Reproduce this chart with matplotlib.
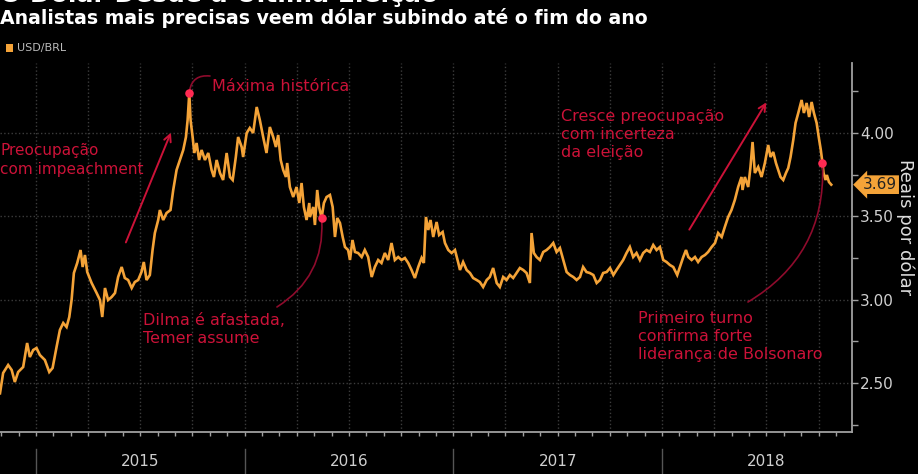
import numpy as np
import matplotlib
matplotlib.use("Agg")
import matplotlib.pyplot as plt
from matplotlib import transforms

# USD/BRL (x in decimal years)
years = [2014.828, 2014.843, 2014.867, 2014.884, 2014.899, 2014.915, 2014.939, 2014.958, 2014.971, 2014.987,
         2015.003, 2015.019, 2015.043, 2015.064, 2015.080, 2015.099, 2015.115, 2015.131, 2015.147, 2015.160,
         2015.171, 2015.182, 2015.198, 2015.214, 2015.224, 2015.235, 2015.246, 2015.267, 2015.291, 2015.307,
         2015.318, 2015.331, 2015.346, 2015.363, 2015.379, 2015.394, 2015.411, 2015.426, 2015.442, 2015.459,
         2015.474, 2015.490, 2015.506, 2015.517, 2015.530, 2015.546, 2015.559, 2015.570, 2015.586, 2015.594,
         2015.610, 2015.626, 2015.645, 2015.658, 2015.674, 2015.690, 2015.706, 2015.719, 2015.727, 2015.735,
         2015.741, 2015.751, 2015.759, 2015.770, 2015.782, 2015.794, 2015.810, 2015.826, 2015.842, 2015.853,
         2015.866, 2015.882, 2015.897, 2015.914, 2015.930, 2015.943, 2015.958, 2015.969, 2015.986, 2015.993,
         2016.010, 2016.025, 2016.041, 2016.058, 2016.073, 2016.089, 2016.105, 2016.121, 2016.137, 2016.150,
         2016.161, 2016.173, 2016.185, 2016.198, 2016.204, 2016.217, 2016.233, 2016.249, 2016.262, 2016.273,
         2016.284, 2016.297, 2016.310, 2016.313, 2016.329, 2016.337, 2016.348, 2016.357, 2016.369, 2016.380,
         2016.393, 2016.409, 2016.422, 2016.433, 2016.444, 2016.457, 2016.470, 2016.481, 2016.496, 2016.505,
         2016.517, 2016.529, 2016.544, 2016.561, 2016.576, 2016.592, 2016.609, 2016.624, 2016.640, 2016.656,
         2016.672, 2016.688, 2016.704, 2016.720, 2016.736, 2016.752, 2016.768, 2016.784, 2016.800, 2016.816,
         2016.832, 2016.848, 2016.859, 2016.869, 2016.880, 2016.891, 2016.904, 2016.920, 2016.932, 2016.949,
         2016.960, 2016.976, 2016.992, 2017.008, 2017.024, 2017.032, 2017.047, 2017.064, 2017.080, 2017.095,
         2017.112, 2017.127, 2017.143, 2017.160, 2017.175, 2017.191, 2017.208, 2017.223, 2017.239, 2017.255,
         2017.271, 2017.287, 2017.303, 2017.319, 2017.335, 2017.351, 2017.367, 2017.375, 2017.386, 2017.399,
         2017.415, 2017.431, 2017.447, 2017.463, 2017.479, 2017.495, 2017.511, 2017.527, 2017.543, 2017.559,
         2017.575, 2017.591, 2017.607, 2017.622, 2017.638, 2017.654, 2017.671, 2017.687, 2017.703, 2017.718,
         2017.735, 2017.751, 2017.767, 2017.782, 2017.798, 2017.814, 2017.830, 2017.846, 2017.862, 2017.878,
         2017.894, 2017.910, 2017.926, 2017.942, 2017.958, 2017.974, 2017.990, 2018.006, 2018.022, 2018.038,
         2018.054, 2018.073, 2018.086, 2018.102, 2018.115, 2018.126, 2018.142, 2018.158, 2018.173, 2018.190,
         2018.206, 2018.221, 2018.238, 2018.254, 2018.269, 2018.286, 2018.301, 2018.317, 2018.333, 2018.349,
         2018.365, 2018.381, 2018.386, 2018.397, 2018.413, 2018.424, 2018.434, 2018.445, 2018.461, 2018.477,
         2018.493, 2018.509, 2018.520, 2018.533, 2018.546, 2018.557, 2018.568, 2018.581, 2018.594, 2018.605,
         2018.616, 2018.629, 2018.640, 2018.653, 2018.669, 2018.680, 2018.693, 2018.705, 2018.717, 2018.728,
         2018.741, 2018.751, 2018.761, 2018.769, 2018.774, 2018.784, 2018.790, 2018.800, 2018.811]
usd_brl = [2.438, 2.560, 2.608, 2.578, 2.506, 2.566, 2.596, 2.740, 2.656, 2.698,
           2.710, 2.668, 2.638, 2.566, 2.590, 2.716, 2.818, 2.860, 2.836, 2.896,
           2.998, 3.160, 3.220, 3.298, 3.196, 3.268, 3.166, 3.100, 3.040, 2.998,
           2.896, 3.070, 2.998, 3.016, 3.040, 3.136, 3.196, 3.130, 3.118, 3.070,
           3.106, 3.118, 3.166, 3.226, 3.118, 3.148, 3.298, 3.400, 3.478, 3.538,
           3.478, 3.520, 3.538, 3.658, 3.778, 3.838, 3.898, 3.976, 4.078, 4.240,
           4.078, 3.976, 3.880, 3.940, 3.838, 3.898, 3.838, 3.880, 3.778, 3.736,
           3.838, 3.760, 3.718, 3.880, 3.736, 3.718, 3.856, 3.976, 3.916, 3.856,
           4.000, 4.030, 4.000, 4.156, 4.078, 3.976, 3.880, 4.036, 3.976, 3.916,
           3.988, 3.838, 3.778, 3.736, 3.820, 3.676, 3.616, 3.676, 3.580, 3.700,
           3.556, 3.478, 3.580, 3.496, 3.556, 3.448, 3.658, 3.556, 3.490, 3.580,
           3.616, 3.628, 3.556, 3.376, 3.490, 3.460, 3.376, 3.316, 3.298, 3.238,
           3.358, 3.286, 3.280, 3.256, 3.298, 3.256, 3.136, 3.196, 3.238, 3.220,
           3.280, 3.238, 3.340, 3.238, 3.256, 3.238, 3.250, 3.220, 3.178, 3.130,
           3.196, 3.250, 3.220, 3.496, 3.418, 3.478, 3.376, 3.466, 3.388, 3.406,
           3.340, 3.298, 3.280, 3.298, 3.220, 3.178, 3.226, 3.178, 3.160, 3.130,
           3.118, 3.106, 3.076, 3.118, 3.136, 3.190, 3.100, 3.076, 3.136, 3.118,
           3.148, 3.130, 3.160, 3.190, 3.178, 3.160, 3.100, 3.400, 3.280, 3.256,
           3.238, 3.286, 3.298, 3.316, 3.340, 3.286, 3.310, 3.238, 3.166, 3.148,
           3.136, 3.118, 3.136, 3.196, 3.166, 3.160, 3.148, 3.100, 3.118, 3.160,
           3.166, 3.190, 3.148, 3.178, 3.208, 3.238, 3.280, 3.316, 3.256, 3.280,
           3.238, 3.280, 3.298, 3.286, 3.328, 3.298, 3.316, 3.238, 3.226, 3.208,
           3.196, 3.148, 3.196, 3.256, 3.298, 3.256, 3.238, 3.256, 3.226, 3.256,
           3.268, 3.286, 3.316, 3.340, 3.400, 3.376, 3.436, 3.496, 3.538, 3.598,
           3.676, 3.736, 3.658, 3.736, 3.676, 3.796, 3.946, 3.760, 3.796, 3.736,
           3.820, 3.928, 3.856, 3.886, 3.820, 3.778, 3.736, 3.718, 3.760, 3.790,
           3.856, 3.958, 4.060, 4.120, 4.198, 4.120, 4.180, 4.096, 4.186, 4.120,
           4.060, 3.976, 3.898, 3.820, 3.760, 3.718, 3.748, 3.706, 3.690]

# highlighted events
event_x = [2015.735, 2016.369, 2018.769]
event_y = [4.240, 3.490, 3.820]
last_value = 3.69
year_labels = ["2015", "2016", "2017", "2018"]

orange = "#f4a338"
red = "#cc1238"
dark_red = "#8e0b2c"
dot_red = "#ff2a52"

fig = plt.figure(figsize=(9.18, 4.74), dpi=100, facecolor="black")
ax = fig.add_axes([0.0, 0.0886, 0.928, 0.7785])
ax.set_facecolor("black")

ax.plot(years, usd_brl, color=orange, lw=1.9, solid_joinstyle="miter", zorder=3)
ax.scatter(event_x, event_y, s=38, color=dot_red, zorder=5, lw=0)

# axes styling
for s in ["left", "top"]:
    ax.spines[s].set_visible(False)
for s in ["right", "bottom"]:
    ax.spines[s].set_color("#a0a0a0")
    ax.spines[s].set_linewidth(1.3)

ax.yaxis.tick_right()
ax.set_yticks([2.5, 3.0, 3.5, 4.0])
ax.set_yticks([2.25, 2.75, 3.25, 3.75, 4.25], minor=True)
ax.set_yticklabels(["2.50", "3.00", "3.50", "4.00"])
ax.tick_params(axis="y", which="both", colors="#a0a0a0", labelcolor="#d0d0d0",
               labelsize=11, length=4, width=1, pad=2)

quarters = [y + q / 4 for y in range(2015, 2019) for q in range(4)]
months = [2014 + m / 12 for m in range(10, 59)]
ax.set_xticks(quarters)
ax.set_xticks(months, minor=True)
ax.set_xticklabels([])
ax.tick_params(axis="x", which="both", colors="#a0a0a0", length=3, width=1)

# limits after ticks so they are not widened
ax.set_xlim(2014.828, 2018.910)
ax.set_ylim(2.206, 4.42)

ax.grid(True, which="major", color="#3c3c3c", linestyle=":", linewidth=1)

# year separators and labels under the axis
trans = transforms.blended_transform_factory(ax.transData, ax.transAxes)
for i, lab in enumerate(year_labels):
    yr = 2015 + i
    ax.plot([yr, yr], [-0.045, -0.115], color="#555555", lw=1, transform=trans, clip_on=False)
    ax.text(yr + 0.5, -0.08, lab, color="#cfcfcf", fontsize=11, ha="center", va="center",
            transform=trans)

# last value tag
ax.annotate(f"{last_value:.2f}", xy=(1.0, last_value), xycoords=("axes fraction", "data"),
            xytext=(8, 0), textcoords="offset points", color="#222222", fontsize=11,
            va="center", ha="left",
            bbox=dict(boxstyle="larrow,pad=0.12", fc=orange, ec="none"), annotation_clip=False)

fig.text(0.986, 0.52, "Reais por dólar", rotation=270, color="#dddddd", fontsize=13,
         ha="center", va="center")

# titles and legend (first line is cut by the top edge, as in the original)
fig.text(0.0, 0.996, "O Dólar Desde a Última Eleição", color="white", fontsize=18,
         fontweight="bold", ha="left", va="baseline")
fig.text(0.0, 0.962, "Analistas mais precisas veem dólar subindo até o fim do ano", color="white",
         fontsize=13.6, fontweight="bold", ha="left", va="center")
fig.patches.append(plt.Rectangle((0.006, 0.891), 0.0085, 0.017, transform=fig.transFigure,
                                 fc=orange, ec="none"))
fig.text(0.019, 0.899, "USD/BRL", color="#bbbbbb", fontsize=8, ha="left", va="center")

# annotations
ax.text(2015.843, 4.276, "Máxima histórica", color=red, fontsize=11.5, va="center")
ax.annotate("", xy=(event_x[0], event_y[0]), xytext=(2015.834, 4.342),
            arrowprops=dict(arrowstyle="-", color=dark_red, lw=1.2,
                            connectionstyle="arc3,rad=0.5", shrinkA=0, shrinkB=2))

ax.text(2014.830, 3.838, "Preocupação\ncom impeachment", color=red, fontsize=11,
        va="center", linespacing=1.3)
ax.annotate("", xy=(2015.652, 4.018), xytext=(2015.426, 3.328),
            arrowprops=dict(arrowstyle="->,head_length=0.5,head_width=0.25", color=red, lw=1.4))

ax.text(2015.513, 2.824, "Dilma é afastada,\nTemer assume", color=red, fontsize=11.5,
        va="center", linespacing=1.25)
ax.annotate("", xy=(event_x[1], event_y[1]), xytext=(2016.155, 2.956),
            arrowprops=dict(arrowstyle="-", color=dark_red, lw=1.2,
                            connectionstyle="arc3,rad=0.3", shrinkA=0, shrinkB=2))

ax.text(2017.516, 3.988, "Cresce preocupação\ncom incerteza\nda eleição", color=red,
        fontsize=11.5, va="center", linespacing=1.25)
ax.annotate("", xy=(2018.507, 4.198), xytext=(2018.124, 3.406),
            arrowprops=dict(arrowstyle="->,head_length=0.5,head_width=0.25", color=red, lw=1.4))

ax.text(2017.885, 2.782, "Primeiro turno\nconfirma forte\nliderança de Bolsonaro", color=red,
        fontsize=11.5, va="center", linespacing=1.25)
ax.annotate("", xy=(event_x[2], event_y[2]), xytext=(2018.412, 2.986),
            arrowprops=dict(arrowstyle="-", color=dark_red, lw=1.2,
                            connectionstyle="arc3,rad=0.3", shrinkA=0, shrinkB=2))

fig.savefig("out.png", dpi=100, facecolor="black")
